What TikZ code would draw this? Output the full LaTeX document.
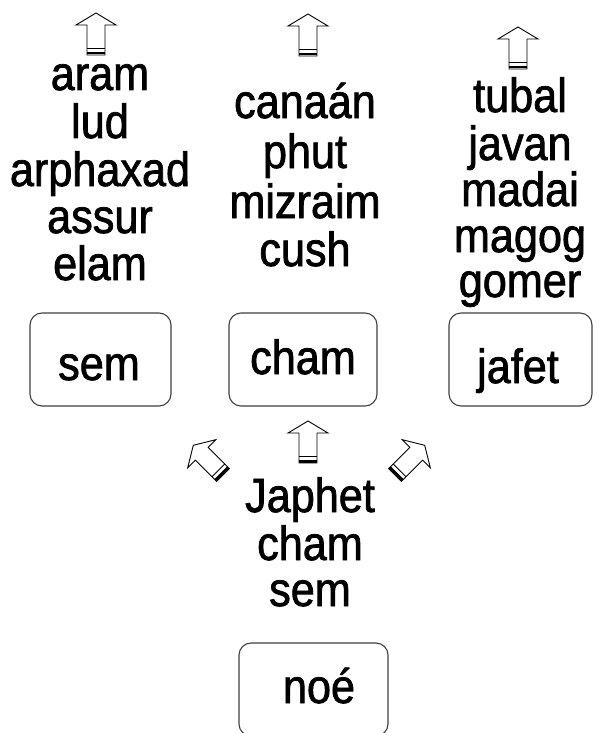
\documentclass[tikz,border=0pt]{standalone}
\usepackage{fontspec}
\setmainfont[FakeStretch=0.9,FakeBold=1.5]{Liberation Sans}
\tikzset{
  blockarrow/.pic={
    \draw[line width=0.9pt, line join=miter, fill=white]
      (-9,0) -- (-9,-30) -- (-20,-30) -- (0,-42) -- (20,-30) -- (9,-30) -- (9,0) -- cycle;
    \draw[line width=2.6pt] (-9,-1.8) -- (9,-1.8);
    \draw[line width=0.9pt] (-9,-6.5) -- (9,-6.5);
  },
  namebox/.style={draw=black!75, line width=1.1pt, rounded corners=12pt, inner sep=0pt},
  lbl/.style={font=\fontsize{48}{54}\selectfont, inner sep=0pt, anchor=base},
}
\begin{document}
\begin{tikzpicture}[x=1pt,y=-1pt]
\useasboundingbox[fill=white] (0,0) rectangle (603,733);
% top arrows
\pic at (96,55) {blockarrow};
\pic at (308,56) {blockarrow};
\pic at (518,69) {blockarrow};
% sons of sem
\node[lbl] (aram) at (100,90) {aram};
\node[lbl] (lud) at (100,138) {lud};
\node[lbl] (arphaxad) at (100,186) {arphaxad};
\node[lbl] (assur) at (100,233) {assur};
\node[lbl] (elam) at (100,280) {elam};
% sons of cham
\node[lbl] (canaan) at (305,118) {canaán};
\node[lbl] (phut) at (305,168) {phut};
\node[lbl] (mizraim) at (305,218) {mizraim};
\node[lbl] (cush) at (305,266) {cush};
% sons of jafet
\node[lbl] (tubal) at (520,112) {tubal};
\node[lbl] (javan) at (520,160) {javan};
\node[lbl] (madai) at (520,206) {madai};
\node[lbl] (magog) at (520,252) {magog};
\node[lbl] (gomer) at (520,297) {gomer};
% boxes
\draw[namebox] (30,313) rectangle (171,406);
\node[lbl] (sem) at (99,380) {sem};
\draw[namebox] (229,313) rectangle (377,406);
\node[lbl] (cham) at (303,374) {cham};
\draw[namebox] (449,313) rectangle (592,406);
\node[lbl] (jafet) at (518,383) {jafet};
% lower arrows
\pic at (308,463) {blockarrow};
\pic[rotate=45] at (223,475) {blockarrow};
\pic[rotate=-45] at (395,475) {blockarrow};
% sons of noe
\node[lbl] (japhet2) at (310,512) {Japhet};
\node[lbl] (cham2) at (310,560) {cham};
\node[lbl] (sem2) at (310,606) {sem};
% noe box
\draw[namebox] (239,643) rectangle (388,736);
\node[lbl] (noe) at (319,703) {noé};
\end{tikzpicture}
\end{document}
